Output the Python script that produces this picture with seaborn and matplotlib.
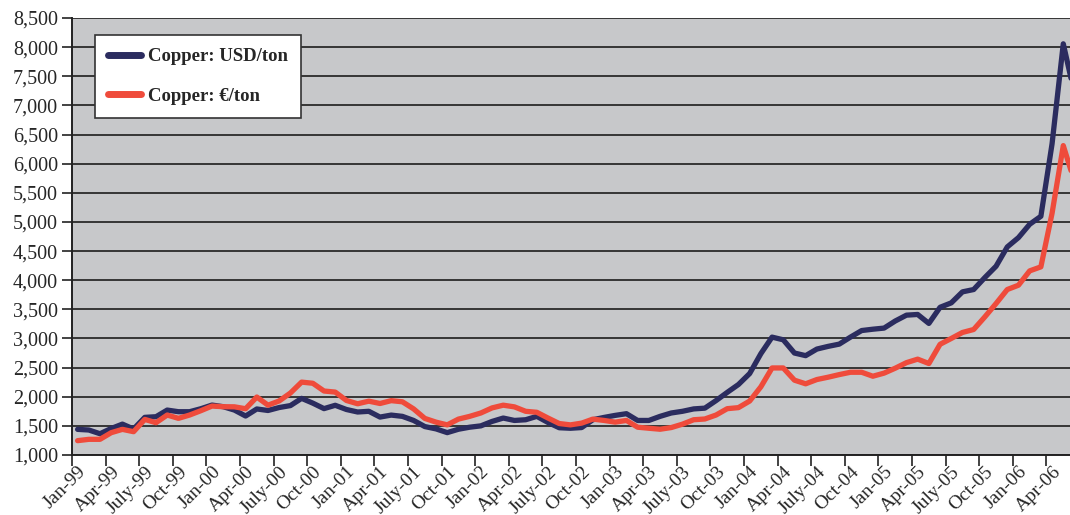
import numpy as np
import pandas as pd
import matplotlib.pyplot as plt
import seaborn as sns

# Monthly copper prices, Jan-99 .. Jun-06
usd = [1440, 1429, 1365, 1455, 1530, 1446, 1646, 1657, 1771, 1743, 1743, 1794,
       1857, 1829, 1771, 1669, 1790, 1764, 1815, 1848, 1972, 1890, 1796, 1853,
       1781, 1738, 1750, 1651, 1685, 1663, 1593, 1488, 1448, 1384, 1442, 1477,
       1500, 1576, 1634, 1593, 1605, 1663, 1558, 1468, 1459, 1471, 1605, 1645,
       1680, 1709, 1593, 1593, 1663, 1721, 1750, 1791, 1804, 1934, 2075, 2210,
       2398, 2739, 3023, 2977, 2750, 2705, 2818, 2864, 2903, 3023, 3136, 3159,
       3178, 3300, 3400, 3412, 3258, 3535, 3611, 3800, 3840, 4046, 4240, 4571,
       4731, 4960, 5097, 6343, 8057, 7200]
eur = [1246, 1269, 1269, 1383, 1440, 1400, 1611, 1554, 1686, 1629, 1686, 1760,
       1840, 1829, 1827, 1794, 1995, 1855, 1928, 2064, 2251, 2231, 2098, 2080,
       1936, 1879, 1924, 1884, 1933, 1913, 1791, 1628, 1564, 1517, 1616, 1663,
       1721, 1808, 1855, 1826, 1750, 1733, 1634, 1540, 1517, 1547, 1616, 1593,
       1564, 1593, 1477, 1459, 1442, 1471, 1529, 1605, 1618, 1686, 1795, 1813,
       1926, 2170, 2494, 2494, 2284, 2222, 2295, 2335, 2380, 2420, 2420, 2352,
       2405, 2490, 2585, 2645, 2570, 2900, 3000, 3103, 3154, 3371, 3600, 3840,
       3914, 4160, 4229, 5150, 6310, 5690]

quarters = ['Jan', 'Apr', 'July', 'Oct']
years = ['99', '00', '01', '02', '03', '04', '05', '06']
tick_labels = [f'{q}-{y}' for y in years for q in quarters][:30]

series_names = ['Copper: USD/ton', 'Copper: \u20ac/ton']
colors = ['#2b2c5f', '#ef4b3b']

df = pd.DataFrame({
    'month': list(range(len(usd))) * 2,
    'price': usd + eur,
    'series': [series_names[0]] * len(usd) + [series_names[1]] * len(eur),
})

sns.set_style('ticks', {'axes.facecolor': '#c7c8ca'})
plt.rcParams['font.family'] = ['Liberation Serif', 'DejaVu Serif']

fig = plt.figure(figsize=(10.7, 5.15), dpi=100)
ax = fig.add_axes([72 / 1070, 1 - 455 / 515, 1 - 72 / 1070, 437 / 515])

sns.lineplot(data=df, x='month', y='price', hue='series',
             palette=colors, linewidth=3.8, ax=ax)

ax.set_xlim(-0.5, 88.6)
ax.set_ylim(1000, 8500)
ax.set_yticks(np.arange(1000, 8501, 500))
ax.set_yticklabels([f'{v:,}' for v in range(1000, 8501, 500)], fontsize=14.5)
ax.tick_params(axis='y', length=7, width=1.2, color='#222222', pad=3)

# tick marks sit on category boundaries, labels under category centres
ax.set_xticks(np.arange(-0.5, 89, 3))
ax.set_xticklabels([])
ax.tick_params(axis='x', which='major', length=8, width=1.2, color='#222222')
ax.set_xticks(np.arange(0, 88, 3), minor=True)
ax.set_xticklabels(tick_labels, minor=True, rotation=45, ha='right',
                   rotation_mode='anchor', fontsize=14)
ax.tick_params(axis='x', which='minor', length=0, pad=6)

ax.yaxis.grid(True, color='#2a2a2a', linewidth=1.3)
ax.set_axisbelow(True)
for side in ['top', 'right']:
    ax.spines[side].set_visible(False)
for side in ['left', 'bottom']:
    ax.spines[side].set_color('#222222')
    ax.spines[side].set_linewidth(1.4)
ax.set_xlabel('')
ax.set_ylabel('')

handles, labels = ax.get_legend_handles_labels()
leg = ax.legend(handles, labels, loc='upper left', bbox_to_anchor=(0.023, 0.962),
                borderaxespad=0, frameon=True, fancybox=False, framealpha=1,
                edgecolor='#333333', facecolor='white', handlelength=1.75,
                handletextpad=0.35, labelspacing=1.2, borderpad=0.72,
                prop={'weight': 'bold', 'size': 13.5})
leg.get_frame().set_linewidth(1.2)
for line in leg.get_lines():
    line.set_linewidth(5)

fig.savefig('out.png', dpi=100)
